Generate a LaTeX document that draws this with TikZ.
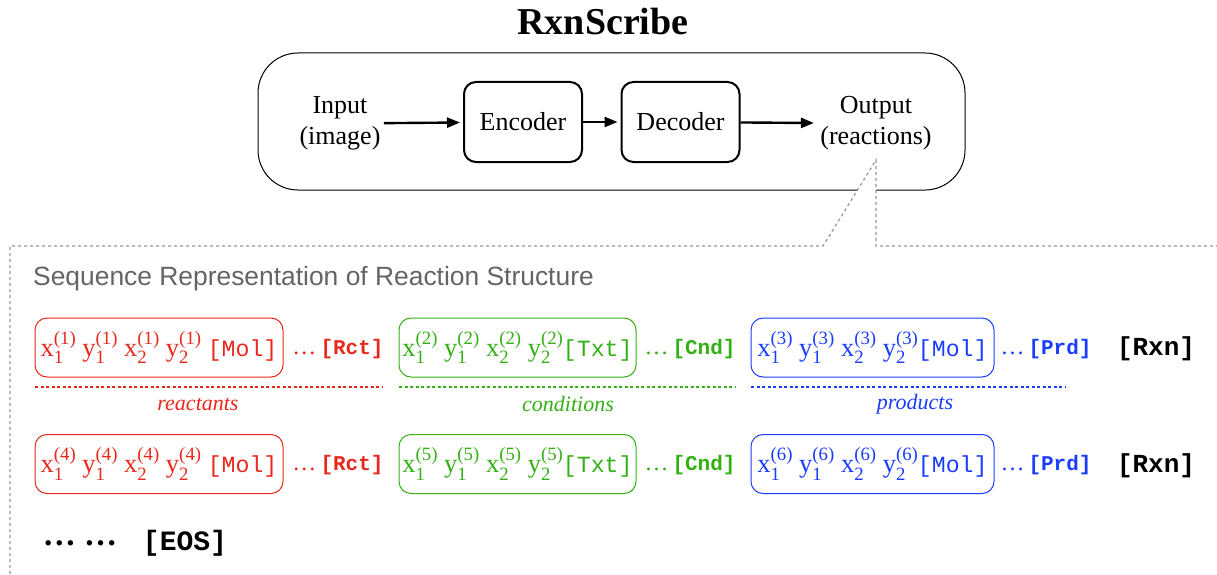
\documentclass[tikz,border=0pt]{standalone}
\usepackage{fontspec}
\setmainfont{Liberation Serif}
\setsansfont{Liberation Sans}
\setmonofont{Liberation Mono}
\usetikzlibrary{arrows.meta}
\definecolor{cred}{RGB}{232,40,28}
\definecolor{cgreen}{RGB}{51,176,20}
\definecolor{cblue}{RGB}{26,60,255}
\definecolor{cgray}{RGB}{150,150,150}
\definecolor{tgray}{RGB}{100,100,100}
\newcommand{\fs}[1]{\fontsize{#1}{#1}\selectfont}
\newcommand{\tk}[3]{#1\rlap{\raisebox{-0.3em}{\fs{18.8}#2}}\raisebox{0.45em}{\fs{18.8}(#3)}}
\newcommand{\seqtxt}[3]{\tk{x}{1}{#1}\ \tk{y}{1}{#1}\ \tk{x}{2}{#1}\ \tk{y}{2}{#1}#3{\fs{23.2}\ttfamily[#2]}}
\newcommand{\grpend}[1]{{\fs{24}\ldots}\,{\fs{21}\ttfamily\bfseries[#1]}}
\tikzset{
  sysbox/.style={draw, line width=1pt, rounded corners=40pt, minimum width=707pt, minimum height=137pt},
  procbox/.style={draw, line width=2pt, rounded corners=12pt, minimum width=118pt, minimum height=80pt, font=\fontsize{26}{31}\selectfont},
  iotext/.style={align=center, font=\fontsize{26}{31}\selectfont},
  arr/.style={line width=2.4pt, -{Triangle[length=13pt,width=10pt]}, shorten >=3pt},
  dashline/.style={draw=cgray, line width=1.2pt, dash pattern=on 3pt off 3pt},
  seqbox/.style={draw, line width=1pt, rounded corners=12pt, minimum height=59pt, inner sep=0pt, font=\fs{26.5}},
  seqend/.style={inner sep=0pt, font=\fs{24}},
  grpline/.style={line width=1.3pt, dash pattern=on 3pt off 2.5pt},
  grplabel/.style={font=\itshape\fs{22}, inner sep=0pt},
  rxn/.style={font=\ttfamily\bfseries\fs{26}, inner sep=0pt}
}
\begin{document}
\begin{tikzpicture}[x=1pt,y=-1pt]
\useasboundingbox (0,0) rectangle (1217,575);
% top system
\node[font=\bfseries\fs{38}] (title) at (603,22) {RxnScribe};
\node[sysbox] (sys) at (611.5,121.5) {};
\node[iotext] (in) at (340,123.5) {Input\\(image)};
\node[procbox] (enc) at (523,122) {Encoder};
\node[procbox] (dec) at (680.5,122) {Decoder};
\node[iotext] (out) at (876,123.5) {Output\\(reactions)};
\draw[arr] (in) -- (enc);
\draw[arr] (enc) -- (dec);
\draw[arr] (dec) -- (out);
% callout
\coordinate (ct) at (876,160);
\coordinate (cl) at (823,246);
\coordinate (cr) at (876,246);
\coordinate (bl) at (10,580);
\coordinate (tl) at (10,246);
\coordinate (tr) at (1220,246);
\fill[white] (ct) -- (cl) -- (cr) -- cycle;
\draw[dashline] (bl) -- (tl) -- (cl) -- (ct) -- (cr) -- (tr);
% heading
\node[anchor=west, inner sep=0pt, font=\sffamily\fs{26.4}, text=tgray] (head) at (33,279) {Sequence Representation of Reaction Structure};
% row 1
\node[seqbox, draw=cred, text=cred, minimum width=248pt] (r1) at (159,347.5) {\seqtxt{1}{Mol}{\ }};
\node[seqend, text=cred] (r1e) at (338,349) {\grpend{Rct}};
\node[seqbox, draw=cgreen, text=cgreen, minimum width=237pt] (c1) at (517.5,347.5) {\seqtxt{2}{Txt}{}};
\node[seqend, text=cgreen] (c1e) at (690,349) {\grpend{Cnd}};
\node[seqbox, draw=cblue, text=cblue, minimum width=243pt] (p1) at (872.5,347.5) {\seqtxt{3}{Mol}{}};
\node[seqend, text=cblue] (p1e) at (1046,349) {\grpend{Prd}};
\node[rxn] (x1) at (1156,349) {[Rxn]};
% group lines
\coordinate (ra) at (35,387); \coordinate (rb) at (383,387);
\coordinate (ca) at (399,387); \coordinate (cb) at (735,387);
\coordinate (pa) at (751,387); \coordinate (pb) at (1066,387);
\draw[grpline, cred] (ra) -- (rb);
\draw[grpline, cgreen] (ca) -- (cb);
\draw[grpline, cblue] (pa) -- (pb);
\node[grplabel, text=cred] (lr) at (198,404) {reactants};
\node[grplabel, text=cgreen] (lc) at (568,404) {conditions};
\node[grplabel, text=cblue] (lp) at (915,404) {products};
% row 2
\node[seqbox, draw=cred, text=cred, minimum width=248pt] (r2) at (159,464) {\seqtxt{4}{Mol}{\ }};
\node[seqend, text=cred] (r2e) at (338,465.5) {\grpend{Rct}};
\node[seqbox, draw=cgreen, text=cgreen, minimum width=237pt] (c2) at (517.5,464) {\seqtxt{5}{Txt}{}};
\node[seqend, text=cgreen] (c2e) at (690,465.5) {\grpend{Cnd}};
\node[seqbox, draw=cblue, text=cblue, minimum width=243pt] (p2) at (872.5,464) {\seqtxt{6}{Mol}{}};
\node[seqend, text=cblue] (p2e) at (1046,465.5) {\grpend{Prd}};
\node[rxn] (x2) at (1156,465.5) {[Rxn]};
% end
\node[font=\bfseries\fs{33}, inner sep=0pt] (dots) at (80,543) {\ldots\ \ldots};
\node[font=\ttfamily\bfseries\fs{28}, inner sep=0pt] (eos) at (185,543) {[EOS]};
\end{tikzpicture}
\end{document}
